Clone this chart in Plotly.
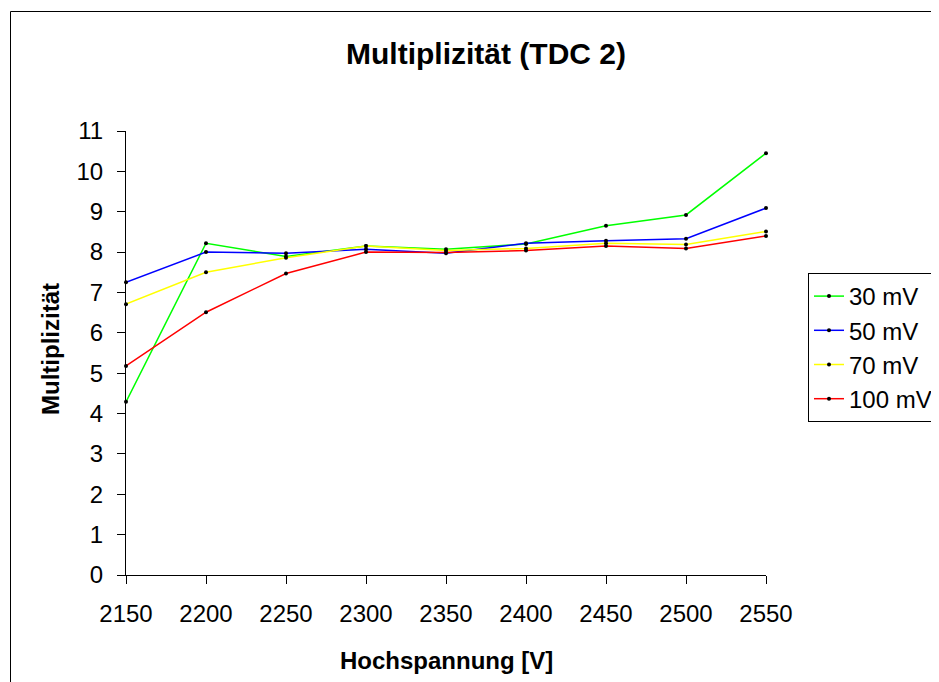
import plotly.graph_objects as go

voltages = [2150, 2200, 2250, 2300, 2350, 2400, 2450, 2500, 2550]
mult_30mV = [4.29, 8.22, 7.89, 8.15, 8.07, 8.20, 8.65, 8.92, 10.45]
mult_50mV = [7.25, 8.00, 7.97, 8.07, 7.97, 8.22, 8.28, 8.33, 9.09]
mult_70mV = [6.71, 7.50, 7.86, 8.15, 8.04, 8.09, 8.22, 8.19, 8.51]
mult_100mV = [5.18, 6.51, 7.47, 8.00, 7.99, 8.04, 8.15, 8.09, 8.40]

series_names = ["30 mV", "50 mV", "70 mV", "100 mV"]
series_values = [mult_30mV, mult_50mV, mult_70mV, mult_100mV]
series_colors = ["#00FF00", "#0000FF", "#FFFF00", "#FF0000"]

y_ticks = list(range(0, 12))
x_ticks = voltages

FONT = "Liberation Sans, Arial, sans-serif"

fig = go.Figure()
for name, vals, col in zip(series_names, series_values, series_colors):
    fig.add_trace(go.Scatter(
        x=voltages, y=vals, name=name, mode="lines+markers",
        line=dict(color=col, width=1.5),
        marker=dict(color="black", size=4, symbol="circle"),
        cliponaxis=False,
    ))

# page body has an 8px margin; positions below are in screenshot pixels
OFF = 8
W, H = 939, 682
pw, ph = 640, 444
L = 126 - OFF
T = 131 - OFF
R = W - L - pw
B = H - T - ph

def px(x):
    return (x - OFF - L) / pw

def py(y):
    return (T + ph - (y - OFF)) / ph

fig.update_layout(
    width=W, height=H,
    margin=dict(l=L, r=R, t=T, b=B, autoexpand=False),
    paper_bgcolor="white", plot_bgcolor="white",
    font=dict(family=FONT, size=24, color="black"),
    title=dict(text="<b>Multiplizität (TDC 2)</b>", x=(486 - OFF) / W, xref="container", xanchor="center",
               y=1 - (53 - OFF) / H, yref="container", yanchor="middle",
               font=dict(size=30, family=FONT, color="black")),
    showlegend=True,
    legend=dict(x=px(808), y=py(273), xanchor="left", yanchor="top",
                bordercolor="black", borderwidth=1, bgcolor="white",
                font=dict(size=24, family=FONT), tracegroupgap=0),
    xaxis=dict(range=[2150, 2550], tickmode="array", tickvals=x_ticks,
               ticktext=[str(v) for v in x_ticks],
               showgrid=False, zeroline=False, showline=True, linecolor="black", linewidth=1,
               ticks="outside", ticklen=8, tickcolor="black", ticklabelstandoff=9,
               tickfont=dict(size=24)),
    yaxis=dict(range=[0, 11], tickmode="array", tickvals=y_ticks,
               showgrid=False, zeroline=False, showline=True, linecolor="black", linewidth=1,
               ticks="outside", ticklen=8, tickcolor="black", ticklabelstandoff=9,
               tickfont=dict(size=24)),
    annotations=[
        dict(text="<b>Hochspannung [V]</b>", xref="paper", yref="paper", x=0.5, y=py(660),
             xanchor="center", yanchor="middle", showarrow=False, font=dict(size=24, family=FONT)),
        dict(text="<b>Multiplizität</b>", xref="paper", yref="paper", x=px(50), y=py(349),
             xanchor="center", yanchor="middle", textangle=-90, showarrow=False,
             font=dict(size=24, family=FONT)),
    ],
    shapes=[
        dict(type="rect", xref="paper", yref="paper", x0=px(10.5), x1=px(960), y0=py(700), y1=py(11.5),
             line=dict(color="black", width=1), fillcolor="rgba(0,0,0,0)", layer="below"),
    ],
)

fig.write_html("out.html")
